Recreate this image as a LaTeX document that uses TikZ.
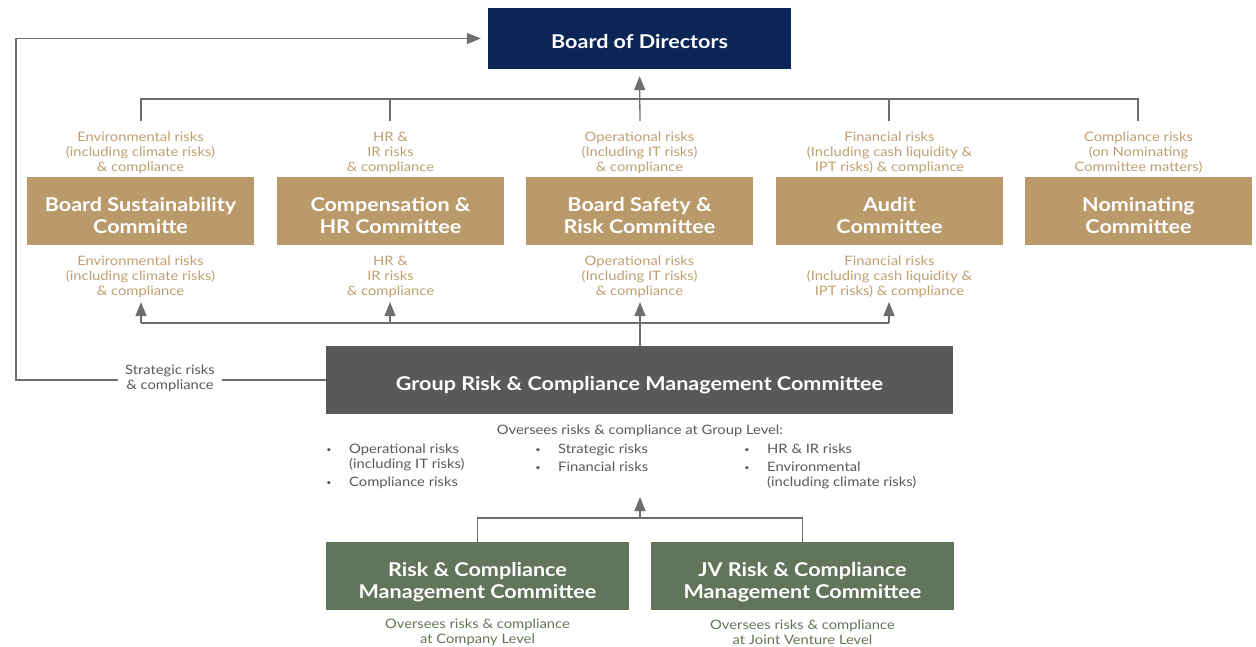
\documentclass[tikz,border=0pt]{standalone}
\usepackage{fontspec}
\setmainfont{Lato}[FakeStretch=1.135]
\usetikzlibrary{arrows.meta}
\definecolor{navy}{HTML}{0C2557}
\definecolor{tanbox}{HTML}{BA9A6A}
\definecolor{tantext}{HTML}{BF9F70}
\definecolor{grpgray}{HTML}{58595B}
\definecolor{txtgray}{HTML}{58595B}
\definecolor{greenbox}{HTML}{62745B}
\definecolor{greentext}{HTML}{62745B}
\definecolor{linegray}{HTML}{6D6E71}
\newcommand\twolines[2]{\rule{0pt}{28pt}#1\\#2\rule[-5pt]{0pt}{5pt}}
\tikzset{
  boxnode/.style={text=white, font=\fontsize{19}{22}\selectfont\bfseries, align=center, inner sep=0pt, minimum height=68pt},
  onebox/.style={boxnode, execute at begin node={\rule{0pt}{26pt}}, execute at end node={\rule[-6pt]{0pt}{6pt}}},
  lbl/.style={text=tantext, font=\fontsize{13}{15}\selectfont, align=center, inner sep=0pt},
  grylbl/.style={text=txtgray, font=\fontsize{13}{15}\selectfont, align=center, inner sep=0pt},
  itemtxt/.style={text=txtgray, font=\fontsize{13}{15}\selectfont, anchor=mid west, inner sep=0pt},
  bul/.style={text=txtgray, font=\fontsize{8}{8}\selectfont, inner sep=0pt},
  conn/.style={draw=linegray, line width=1.3pt},
  arr/.style={conn, -{Triangle[length=14pt,width=11pt]}, color=linegray},
}
\begin{document}
\begin{tikzpicture}[x=1pt,y=-1pt]
\useasboundingbox (0,0) rectangle (1256,646);
% boxes
\node[onebox, fill=navy, minimum width=303pt, minimum height=61pt] (bod) at (639.5,38.5) {Board of Directors};
\node[boxnode, fill=tanbox, minimum width=227pt] (bsc) at (140.5,211) {\twolines{Board Sustainability}{Committe}};
\node[boxnode, fill=tanbox, minimum width=227pt] (chr) at (390.5,211) {\twolines{Compensation \&}{HR Committee}};
\node[boxnode, fill=tanbox, minimum width=227pt] (bsr) at (639.5,211) {\twolines{Board Safety \&}{Risk Committee}};
\node[boxnode, fill=tanbox, minimum width=227pt] (aud) at (889.5,211) {\twolines{Audit}{Committee}};
\node[boxnode, fill=tanbox, minimum width=227pt] (nom) at (1138.5,211) {\twolines{Nominating}{Committee}};
\node[onebox, fill=grpgray, minimum width=627pt] (grp) at (639.5,380) {Group Risk \& Compliance Management Committee};
\node[boxnode, fill=greenbox, minimum width=303pt] (rcm) at (477.5,576) {\twolines{Risk \& Compliance}{Management Committee}};
\node[boxnode, fill=greenbox, minimum width=303pt] (jvm) at (802.5,576) {\twolines{JV Risk \& Compliance}{Management Committee}};
% upper labels
\node[lbl] (ua) at (140.5,153) {Environmental risks\\(including climate risks)\\\& compliance};
\node[lbl] (ub) at (390.5,153) {HR \&\\IR risks\\\& compliance};
\node[lbl] (uc) at (639.5,153) {Operational risks\\(Including IT risks)\\\& compliance};
\node[lbl] (ud) at (889.5,153) {Financial risks\\(Including cash liquidity \&\\IPT risks) \& compliance};
\node[lbl] (ue) at (1138.5,153) {Compliance risks\\(on Nominating\\Committee matters)};
% lower labels
\node[lbl] (la) at (140.5,276.5) {Environmental risks\\(including climate risks)\\\& compliance};
\node[lbl] (lb) at (390.5,276.5) {HR \&\\IR risks\\\& compliance};
\node[lbl] (lc) at (639.5,276.5) {Operational risks\\(Including IT risks)\\\& compliance};
\node[lbl] (ld) at (889.5,276.5) {Financial risks\\(Including cash liquidity \&\\IPT risks) \& compliance};
% coordinates for connectors
\coordinate (u1) at (141,121);
\coordinate (u2) at (390,121);
\coordinate (u3) at (640,121);
\coordinate (u4) at (889,121);
\coordinate (u5) at (1138,121);
\coordinate (hh) at (0,99);
\draw[conn] (u1) -- (u1|-hh) -- (u5|-hh) -- (u5);
\draw[conn] (u2) -- (u2|-hh);
\draw[conn] (u4) -- (u4|-hh);
\draw[arr, shorten >=7pt] (u3) -- (bod.south);
% lower connectors
\coordinate (d1) at (141,302);
\coordinate (d2) at (390,302);
\coordinate (d3) at (640,302);
\coordinate (d4) at (889,302);
\coordinate (bb) at (0,323);
\draw[conn] (d1|-bb) -- (d4|-bb);
\draw[arr] (d1|-bb) -- (d1);
\draw[arr] (d2|-bb) -- (d2);
\draw[arr] (d4|-bb) -- (d4);
\draw[arr] (grp.north -| d3) -- (d3);
% strategic loop
\coordinate (lft) at (16,380);
\draw[arr, shorten >=7pt] (grp.west) -- (lft) |- (bod.west);
\node[grylbl, fill=white, inner xsep=7pt, inner ysep=1pt] (strat) at (170,378) {Strategic risks\\\& compliance};
% group description
\node[grylbl] (gdesc) at (640,431) {Oversees risks \& compliance at Group Level:};
\node[bul] (b1) at (329,451) {•};
\node[itemtxt] (i1) at (349,451) {Operational risks};
\node[itemtxt] (i1b) at (349,466) {(including IT risks)};
\node[bul] (b2) at (329,484) {•};
\node[itemtxt] (i2) at (349,484) {Compliance risks};
\node[bul] (b3) at (538,451) {•};
\node[itemtxt] (i3) at (558,451) {Strategic risks};
\node[bul] (b4) at (538,469) {•};
\node[itemtxt] (i4) at (558,469) {Financial risks};
\node[bul] (b5) at (747,451) {•};
\node[itemtxt] (i5) at (767,451) {HR \& IR risks};
\node[bul] (b6) at (747,469) {•};
\node[itemtxt] (i6) at (767,469) {Environmental};
\node[itemtxt] (i6b) at (767,484) {(including climate risks)};
% bottom connectors
\coordinate (jj) at (640,518);
\coordinate (jt) at (640,497);
\draw[conn] (rcm.north) -- (rcm.north|-jj) -- (jvm.north|-jj) -- (jvm.north);
\draw[arr] (jj) -- (jt);
% bottom labels
\node[grylbl, text=greentext] (rcl) at (477.5,632) {Oversees risks \& compliance\\at Company Level};
\node[grylbl, text=greentext] (jvl) at (802.5,632) {Oversees risks \& compliance\\at Joint Venture Level};
\end{tikzpicture}
\end{document}
